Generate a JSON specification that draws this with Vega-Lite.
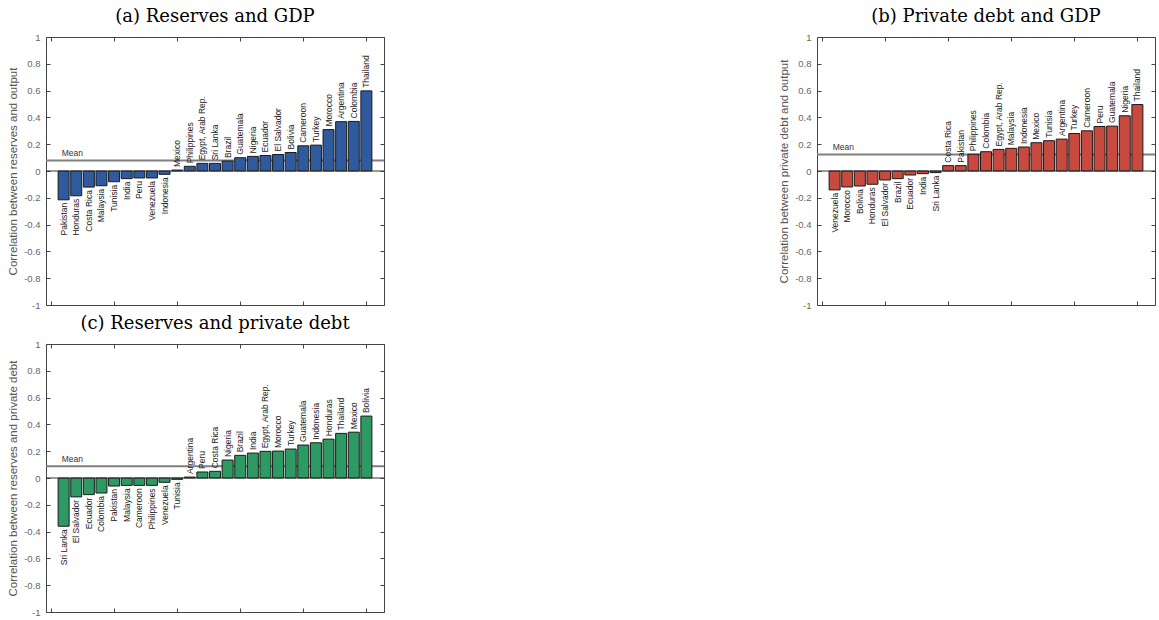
{
  "$schema": "https://vega.github.io/schema/vega-lite/v6.json",
  "padding": {"left": 7, "top": 8, "right": 0, "bottom": 0},
  "background": "white",
  "datasets": {
    "a": [
      {"i": 1, "c": "Pakistan", "v": -0.215},
      {"i": 2, "c": "Honduras", "v": -0.185},
      {"i": 3, "c": "Costa Rica", "v": -0.12},
      {"i": 4, "c": "Malaysia", "v": -0.11},
      {"i": 5, "c": "Tunisia", "v": -0.08},
      {"i": 6, "c": "India", "v": -0.057},
      {"i": 7, "c": "Peru", "v": -0.052},
      {"i": 8, "c": "Venezuela", "v": -0.052},
      {"i": 9, "c": "Indonesia", "v": -0.025},
      {"i": 10, "c": "Mexico", "v": 0.007},
      {"i": 11, "c": "Philippines", "v": 0.035},
      {"i": 12, "c": "Egypt, Arab Rep.", "v": 0.057},
      {"i": 13, "c": "Sri Lanka", "v": 0.057},
      {"i": 14, "c": "Brazil", "v": 0.074},
      {"i": 15, "c": "Guatemala", "v": 0.099},
      {"i": 16, "c": "Nigeria", "v": 0.109},
      {"i": 17, "c": "Ecuador", "v": 0.116},
      {"i": 18, "c": "El Salvador", "v": 0.123},
      {"i": 19, "c": "Bolivia", "v": 0.138},
      {"i": 20, "c": "Cameroon", "v": 0.188},
      {"i": 21, "c": "Turkey", "v": 0.193},
      {"i": 22, "c": "Morocco", "v": 0.309},
      {"i": 23, "c": "Argentina", "v": 0.368},
      {"i": 24, "c": "Colombia", "v": 0.37},
      {"i": 25, "c": "Thailand", "v": 0.598}
    ],
    "b": [
      {"i": 1, "c": "Venezuela", "v": -0.141},
      {"i": 2, "c": "Morocco", "v": -0.119},
      {"i": 3, "c": "Bolivia", "v": -0.112},
      {"i": 4, "c": "Honduras", "v": -0.099},
      {"i": 5, "c": "El Salvador", "v": -0.067},
      {"i": 6, "c": "Brazil", "v": -0.057},
      {"i": 7, "c": "Ecuador", "v": -0.03},
      {"i": 8, "c": "India", "v": -0.02},
      {"i": 9, "c": "Sri Lanka", "v": -0.012},
      {"i": 10, "c": "Costa Rica", "v": 0.04},
      {"i": 11, "c": "Pakistan", "v": 0.04},
      {"i": 12, "c": "Philippines", "v": 0.125},
      {"i": 13, "c": "Colombia", "v": 0.144},
      {"i": 14, "c": "Egypt, Arab Rep.", "v": 0.161},
      {"i": 15, "c": "Malaysia", "v": 0.169},
      {"i": 16, "c": "Indonesia", "v": 0.179},
      {"i": 17, "c": "Mexico", "v": 0.211},
      {"i": 18, "c": "Tunisia", "v": 0.226},
      {"i": 19, "c": "Argentina", "v": 0.238},
      {"i": 20, "c": "Turkey", "v": 0.28},
      {"i": 21, "c": "Cameroon", "v": 0.3},
      {"i": 22, "c": "Peru", "v": 0.332},
      {"i": 23, "c": "Guatemala", "v": 0.335},
      {"i": 24, "c": "Nigeria", "v": 0.412},
      {"i": 25, "c": "Thailand", "v": 0.496}
    ],
    "c": [
      {"i": 1, "c": "Sri Lanka", "v": -0.36},
      {"i": 2, "c": "El Salvador", "v": -0.141},
      {"i": 3, "c": "Ecuador", "v": -0.124},
      {"i": 4, "c": "Colombia", "v": -0.112},
      {"i": 5, "c": "Pakistan", "v": -0.06},
      {"i": 6, "c": "Malaysia", "v": -0.055},
      {"i": 7, "c": "Cameroon", "v": -0.055},
      {"i": 8, "c": "Philippines", "v": -0.055},
      {"i": 9, "c": "Venezuela", "v": -0.032},
      {"i": 10, "c": "Tunisia", "v": -0.01},
      {"i": 11, "c": "Argentina", "v": 0.007},
      {"i": 12, "c": "Peru", "v": 0.045},
      {"i": 13, "c": "Costa Rica", "v": 0.05},
      {"i": 14, "c": "Nigeria", "v": 0.134},
      {"i": 15, "c": "Brazil", "v": 0.169},
      {"i": 16, "c": "India", "v": 0.186},
      {"i": 17, "c": "Egypt, Arab Rep.", "v": 0.199},
      {"i": 18, "c": "Morocco", "v": 0.201},
      {"i": 19, "c": "Turkey", "v": 0.216},
      {"i": 20, "c": "Guatemala", "v": 0.246},
      {"i": 21, "c": "Indonesia", "v": 0.263},
      {"i": 22, "c": "Honduras", "v": 0.29},
      {"i": 23, "c": "Thailand", "v": 0.333},
      {"i": 24, "c": "Mexico", "v": 0.342},
      {"i": 25, "c": "Bolivia", "v": 0.462}
    ],
    "ma": [{"mean": 0.079}],
    "mb": [{"mean": 0.124}],
    "mc": [{"mean": 0.087}]
  },
  "columns": 2,
  "spacing": {"column": 393, "row": 5},
  "concat": [
    {
      "title": "(a) Reserves and GDP",
      "width": 338,
      "height": 268,
      "resolve": {"axis": {"x": "independent", "y": "independent"}},
      "layer": [
        {
          "data": {"name": "ma"},
          "mark": {"type": "rule", "color": "#7f7f7f", "strokeWidth": 2},
          "encoding": {"y": {"field": "mean", "type": "quantitative", "axis": null}}
        },
        {
          "data": {"name": "ma"},
          "mark": {"type": "text", "align": "left", "baseline": "bottom", "dy": -2, "fontSize": 8.5, "color": "#333"},
          "encoding": {"x": {"datum": 0.85, "type": "quantitative", "axis": null}, "y": {"field": "mean", "type": "quantitative", "axis": null}, "text": {"value": "Mean"}}
        },
        {
          "data": {"name": "a"},
          "mark": {"type": "bar", "color": "#2f5a9e", "stroke": "#1a1a1a", "strokeWidth": 1, "size": 11, "orient": "vertical"},
          "encoding": {
            "x": {"field": "i", "type": "quantitative", "scale": {"domain": [0, 26], "nice": false, "zero": false}, "axis": {"orient": "bottom", "values": [0, 5, 10, 15, 20, 25], "labels": false, "title": null, "grid": false, "tickSize": -4, "domainColor": "#444", "tickColor": "#444"}},
            "y": {"field": "v", "type": "quantitative", "scale": {"domain": [-1, 1], "nice": false}, "axis": {"orient": "left", "values": [-1, -0.8, -0.6, -0.4, -0.2, 0, 0.2, 0.4, 0.6, 0.8, 1], "format": ".1~f", "labelExpr": "replace(datum.label, '\u2212', '-')", "title": "Correlation between reserves and output", "grid": false, "tickSize": -4, "labelPadding": 10, "domainColor": "#444", "tickColor": "#444"}}
          }
        },
        {
          "data": {"name": "a"},
          "transform": [{"filter": "datum.v >= 0"}],
          "mark": {"type": "text", "angle": 270, "align": "left", "baseline": "middle", "dx": 3, "fontSize": 8.5, "color": "#222"},
          "encoding": {
            "x": {"field": "i", "type": "quantitative", "axis": {"orient": "top", "values": [0, 5, 10, 15, 20, 25], "labels": false, "title": null, "grid": false, "tickSize": -4, "domainColor": "#444", "tickColor": "#444"}},
            "y": {"field": "v", "type": "quantitative", "axis": {"orient": "right", "values": [-1, -0.8, -0.6, -0.4, -0.2, 0, 0.2, 0.4, 0.6, 0.8, 1], "labels": false, "title": null, "grid": false, "tickSize": -4, "domainColor": "#444", "tickColor": "#444"}},
            "text": {"field": "c"}
          }
        },
        {
          "data": {"name": "a"},
          "transform": [{"filter": "datum.v < 0"}],
          "mark": {"type": "text", "angle": 270, "align": "right", "baseline": "middle", "dx": -3, "fontSize": 8.5, "color": "#222"},
          "encoding": {
            "x": {"field": "i", "type": "quantitative", "axis": null},
            "y": {"field": "v", "type": "quantitative", "axis": null},
            "text": {"field": "c"}
          }
        },
        {
          "data": {"name": "ma"},
          "mark": {"type": "rule", "color": "#333", "strokeWidth": 1},
          "encoding": {"y": {"datum": 0, "type": "quantitative", "axis": null}}
        }
      ]
    },
    {
      "title": "(b) Private debt and GDP",
      "width": 338,
      "height": 268,
      "resolve": {"axis": {"x": "independent", "y": "independent"}},
      "layer": [
        {
          "data": {"name": "mb"},
          "mark": {"type": "rule", "color": "#7f7f7f", "strokeWidth": 2},
          "encoding": {"y": {"field": "mean", "type": "quantitative", "axis": null}}
        },
        {
          "data": {"name": "mb"},
          "mark": {"type": "text", "align": "left", "baseline": "bottom", "dy": -2, "fontSize": 8.5, "color": "#333"},
          "encoding": {"x": {"datum": 0.85, "type": "quantitative", "axis": null}, "y": {"field": "mean", "type": "quantitative", "axis": null}, "text": {"value": "Mean"}}
        },
        {
          "data": {"name": "b"},
          "mark": {"type": "bar", "color": "#c8493e", "stroke": "#1a1a1a", "strokeWidth": 1, "size": 11, "orient": "vertical"},
          "encoding": {
            "x": {"field": "i", "type": "quantitative", "scale": {"domain": [0, 26], "nice": false, "zero": false}, "axis": {"orient": "bottom", "values": [0, 5, 10, 15, 20, 25], "labels": false, "title": null, "grid": false, "tickSize": -4, "domainColor": "#444", "tickColor": "#444"}},
            "y": {"field": "v", "type": "quantitative", "scale": {"domain": [-1, 1], "nice": false}, "axis": {"orient": "left", "values": [-1, -0.8, -0.6, -0.4, -0.2, 0, 0.2, 0.4, 0.6, 0.8, 1], "format": ".1~f", "labelExpr": "replace(datum.label, '\u2212', '-')", "title": "Correlation between private debt and output", "grid": false, "tickSize": -4, "labelPadding": 10, "domainColor": "#444", "tickColor": "#444"}}
          }
        },
        {
          "data": {"name": "b"},
          "transform": [{"filter": "datum.v >= 0"}],
          "mark": {"type": "text", "angle": 270, "align": "left", "baseline": "middle", "dx": 3, "fontSize": 8.5, "color": "#222"},
          "encoding": {
            "x": {"field": "i", "type": "quantitative", "axis": {"orient": "top", "values": [0, 5, 10, 15, 20, 25], "labels": false, "title": null, "grid": false, "tickSize": -4, "domainColor": "#444", "tickColor": "#444"}},
            "y": {"field": "v", "type": "quantitative", "axis": {"orient": "right", "values": [-1, -0.8, -0.6, -0.4, -0.2, 0, 0.2, 0.4, 0.6, 0.8, 1], "labels": false, "title": null, "grid": false, "tickSize": -4, "domainColor": "#444", "tickColor": "#444"}},
            "text": {"field": "c"}
          }
        },
        {
          "data": {"name": "b"},
          "transform": [{"filter": "datum.v < 0"}],
          "mark": {"type": "text", "angle": 270, "align": "right", "baseline": "middle", "dx": -3, "fontSize": 8.5, "color": "#222"},
          "encoding": {
            "x": {"field": "i", "type": "quantitative", "axis": null},
            "y": {"field": "v", "type": "quantitative", "axis": null},
            "text": {"field": "c"}
          }
        },
        {
          "data": {"name": "mb"},
          "mark": {"type": "rule", "color": "#333", "strokeWidth": 1},
          "encoding": {"y": {"datum": 0, "type": "quantitative", "axis": null}}
        }
      ]
    },
    {
      "title": "(c) Reserves and private debt",
      "width": 338,
      "height": 268,
      "resolve": {"axis": {"x": "independent", "y": "independent"}},
      "layer": [
        {
          "data": {"name": "mc"},
          "mark": {"type": "rule", "color": "#7f7f7f", "strokeWidth": 2},
          "encoding": {"y": {"field": "mean", "type": "quantitative", "axis": null}}
        },
        {
          "data": {"name": "mc"},
          "mark": {"type": "text", "align": "left", "baseline": "bottom", "dy": -2, "fontSize": 8.5, "color": "#333"},
          "encoding": {"x": {"datum": 0.85, "type": "quantitative", "axis": null}, "y": {"field": "mean", "type": "quantitative", "axis": null}, "text": {"value": "Mean"}}
        },
        {
          "data": {"name": "c"},
          "mark": {"type": "bar", "color": "#2e9a63", "stroke": "#1a1a1a", "strokeWidth": 1, "size": 11, "orient": "vertical"},
          "encoding": {
            "x": {"field": "i", "type": "quantitative", "scale": {"domain": [0, 26], "nice": false, "zero": false}, "axis": {"orient": "bottom", "values": [0, 5, 10, 15, 20, 25], "labels": false, "title": null, "grid": false, "tickSize": -4, "domainColor": "#444", "tickColor": "#444"}},
            "y": {"field": "v", "type": "quantitative", "scale": {"domain": [-1, 1], "nice": false}, "axis": {"orient": "left", "values": [-1, -0.8, -0.6, -0.4, -0.2, 0, 0.2, 0.4, 0.6, 0.8, 1], "format": ".1~f", "labelExpr": "replace(datum.label, '\u2212', '-')", "title": "Correlation between reserves and private debt", "grid": false, "tickSize": -4, "labelPadding": 10, "domainColor": "#444", "tickColor": "#444"}}
          }
        },
        {
          "data": {"name": "c"},
          "transform": [{"filter": "datum.v >= 0"}],
          "mark": {"type": "text", "angle": 270, "align": "left", "baseline": "middle", "dx": 3, "fontSize": 8.5, "color": "#222"},
          "encoding": {
            "x": {"field": "i", "type": "quantitative", "axis": {"orient": "top", "values": [0, 5, 10, 15, 20, 25], "labels": false, "title": null, "grid": false, "tickSize": -4, "domainColor": "#444", "tickColor": "#444"}},
            "y": {"field": "v", "type": "quantitative", "axis": {"orient": "right", "values": [-1, -0.8, -0.6, -0.4, -0.2, 0, 0.2, 0.4, 0.6, 0.8, 1], "labels": false, "title": null, "grid": false, "tickSize": -4, "domainColor": "#444", "tickColor": "#444"}},
            "text": {"field": "c"}
          }
        },
        {
          "data": {"name": "c"},
          "transform": [{"filter": "datum.v < 0"}],
          "mark": {"type": "text", "angle": 270, "align": "right", "baseline": "middle", "dx": -3, "fontSize": 8.5, "color": "#222"},
          "encoding": {
            "x": {"field": "i", "type": "quantitative", "axis": null},
            "y": {"field": "v", "type": "quantitative", "axis": null},
            "text": {"field": "c"}
          }
        },
        {
          "data": {"name": "mc"},
          "mark": {"type": "rule", "color": "#333", "strokeWidth": 1},
          "encoding": {"y": {"datum": 0, "type": "quantitative", "axis": null}}
        }
      ]
    }
  ],
  "config": {
    "font": "Liberation Sans",
    "view": {"stroke": null},
    "title": {"font": "DejaVu Serif", "fontSize": 18, "fontWeight": "normal", "color": "#000", "offset": 6},
    "axis": {"labelFont": "Liberation Sans", "labelFontSize": 9.5, "labelColor": "#666", "titleFont": "Liberation Sans", "titleFontSize": 11.5, "titleFontWeight": "normal", "titleColor": "#555", "titlePadding": 5}
  }
}
